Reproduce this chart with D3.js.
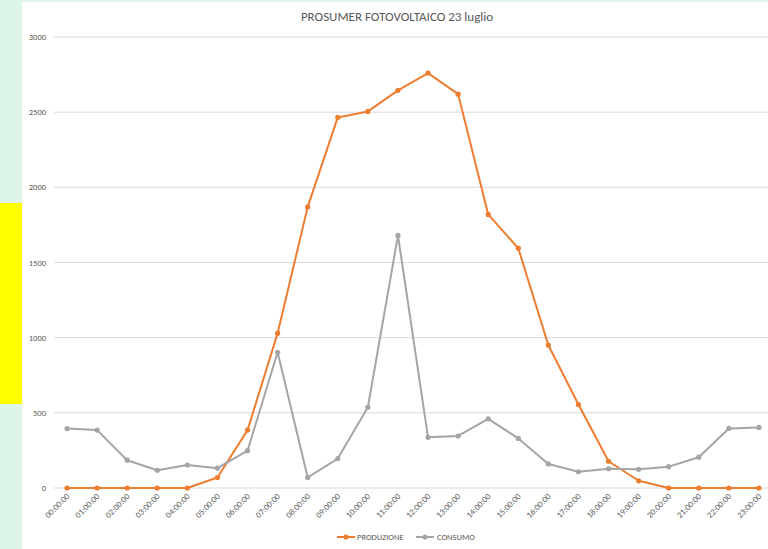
<!DOCTYPE html>
<html lang="it">
<head>
<meta charset="UTF-8">
<title>PROSUMER FOTOVOLTAICO 23 luglio</title>
<script src="https://cdn.jsdelivr.net/npm/d3@7"></script>
<style>
  body { margin: 0; background: #dcf5e6; }
  svg { display: block; font-family: Calibri, Carlito, "Open Sans", sans-serif; }
</style>
</head>
<body>
<svg class="chart"></svg>
<script>
// dati
const ore = ["00:00:00","01:00:00","02:00:00","03:00:00","04:00:00","05:00:00","06:00:00","07:00:00",
  "08:00:00","09:00:00","10:00:00","11:00:00","12:00:00","13:00:00","14:00:00","15:00:00",
  "16:00:00","17:00:00","18:00:00","19:00:00","20:00:00","21:00:00","22:00:00","23:00:00"];
const produzione = [0, 0, 0, 0, 0, 70, 385, 1030, 1870, 2465, 2505, 2645, 2760, 2620,
  1820, 1595, 950, 555, 178, 48, 0, 0, 0, 0];
const consumo = [395, 385, 185, 118, 153, 132, 248, 903, 70, 196, 537, 1680, 337, 346,
  460, 330, 160, 108, 128, 124, 142, 205, 396, 403];
const yTicks = [0, 500, 1000, 1500, 2000, 2500, 3000];

const width = 768, height = 549;
const svg = d3.select(".chart").attr("width", width).attr("height", height);

// sfondo: bordo verde, fascia gialla, area bianca
svg.append("rect").attr("x", 0).attr("y", 0).attr("width", width).attr("height", height).attr("fill", "#dcf5e6");
svg.append("rect").attr("x", 0).attr("y", 203).attr("width", 22).attr("height", 201).attr("fill", "#ffff00");
svg.append("rect").attr("x", 22).attr("y", 2).attr("width", width - 22).attr("height", height - 2).attr("fill", "#ffffff");

const x = d3.scaleBand().domain(ore).range([52, 774]);
const y = d3.scaleLinear().domain([0, 3000]).range([488, 37]);

// griglia
svg.append("g").selectAll("line")
  .data(yTicks)
  .join("line")
  .attr("x1", 54).attr("x2", width)
  .attr("y1", d => y(d)).attr("y2", d => y(d))
  .attr("stroke", "#d9d9d9").attr("stroke-width", 1);

// etichette asse y
svg.append("g").selectAll("text")
  .data(yTicks)
  .join("text")
  .attr("x", 46).attr("y", d => y(d) + 3)
  .attr("text-anchor", "end")
  .attr("font-size", 8.5).attr("fill", "#595959")
  .text(d => d);

// etichette asse x ruotate
svg.append("g").selectAll("text")
  .data(ore)
  .join("text")
  .attr("transform", d => `translate(${x(d) + x.bandwidth() / 2 + 3},${497}) rotate(-45)`)
  .attr("text-anchor", "end")
  .attr("font-size", 8.5).attr("fill", "#595959")
  .text(d => d);

const serie = [
  { nome: "PRODUZIONE", valori: produzione, colore: "#ed7d31" },
  { nome: "CONSUMO", valori: consumo, colore: "#a5a5a5" }
];

const linea = d3.line()
  .x((d, i) => x(ore[i]) + x.bandwidth() / 2)
  .y(d => y(d));

serie.forEach(s => {
  const g = svg.append("g");
  g.append("path")
    .attr("d", linea(s.valori))
    .attr("fill", "none")
    .attr("stroke", s.colore)
    .attr("stroke-width", 2)
    .attr("stroke-linejoin", "round");
  g.selectAll("circle")
    .data(s.valori)
    .join("circle")
    .attr("cx", (d, i) => x(ore[i]) + x.bandwidth() / 2)
    .attr("cy", d => y(d))
    .attr("r", 2.6)
    .attr("fill", s.colore);
});

// titolo
svg.append("text")
  .attr("x", 397).attr("y", 21)
  .attr("text-anchor", "middle")
  .attr("font-size", 13).attr("fill", "#595959")
  .text("PROSUMER FOTOVOLTAICO 23 luglio");

// legenda
const legenda = svg.append("g");
const posLeg = [{ x0: 337, tx: 357 }, { x0: 416, tx: 437 }];
serie.forEach((s, i) => {
  const p = posLeg[i];
  legenda.append("line")
    .attr("x1", p.x0).attr("x2", p.x0 + 18)
    .attr("y1", 537).attr("y2", 537)
    .attr("stroke", s.colore).attr("stroke-width", 2);
  legenda.append("circle")
    .attr("cx", p.x0 + 9).attr("cy", 537).attr("r", 2.6)
    .attr("fill", s.colore);
  legenda.append("text")
    .attr("x", p.tx).attr("y", 540)
    .attr("font-size", 8.5).attr("fill", "#595959")
    .text(s.nome);
});
</script>
</body>
</html>
